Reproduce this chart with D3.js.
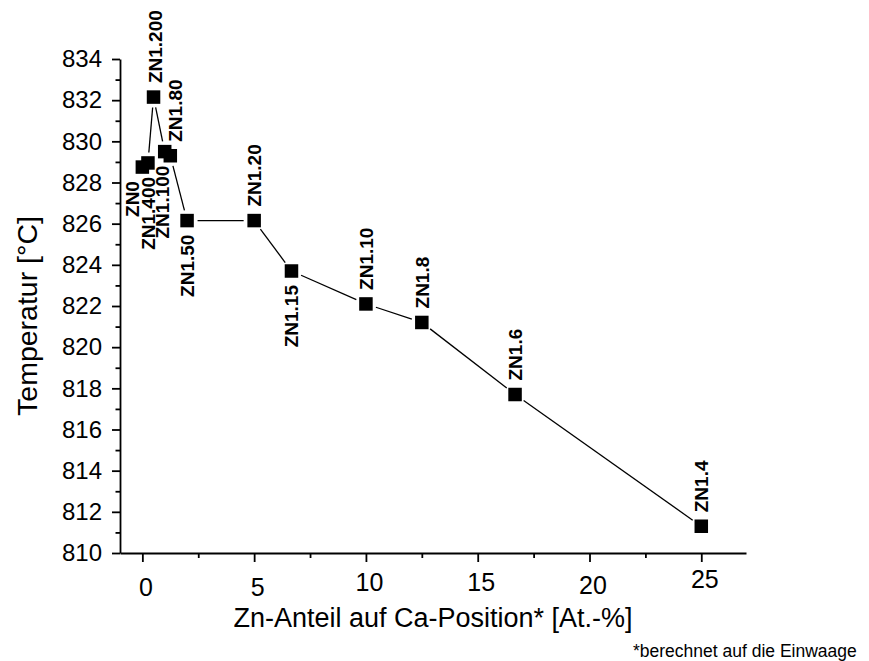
<!DOCTYPE html>
<html><head><meta charset="utf-8">
<script src="https://cdn.jsdelivr.net/npm/d3@7"></script>
<style>
body{margin:0;background:#fff}
svg{display:block}
text{font-family:"Liberation Sans",Arial,Helvetica,sans-serif;fill:#000}
</style>
</head><body>
<svg id="c" width="869" height="661"></svg>
<script>
// ---- data ----
const categories = ["ZN0","ZN1.400","ZN1.200","ZN1.100","ZN1.80","ZN1.50","ZN1.20","ZN1.15","ZN1.10","ZN1.8","ZN1.6","ZN1.4"];
const znShare = [0, 0.25, 0.5, 1.0, 1.25, 2.0, 5.0, 6.67, 10.0, 12.5, 16.67, 25.0];
const temperature = [828.75, 828.95, 832.15, 829.5, 829.3, 826.15, 826.15, 823.7, 822.1, 821.2, 817.7, 811.3];
const xTicks = [0, 5, 10, 15, 20, 25];
const xMinorTicks = [2.5, 7.5, 12.5, 17.5, 22.5];
const yTicks = [810, 812, 814, 816, 818, 820, 822, 824, 826, 828, 830, 832, 834];
const yMinorTicks = [811, 813, 815, 817, 819, 821, 823, 825, 827, 829, 831, 833];
const xTitle = "Zn-Anteil auf Ca-Position* [At.-%]";
const yTitle = "Temperatur [°C]";
const footnote = "*berechnet auf die Einwaage";

// ---- label layout (styling) ----
const labelSide = ["below","below","above","below","above","below","above","below","above","above","above","above"];
const labelNudge = [-10, 0, 2, -3, 5, 0, 0, 0, 0, 0, 0, 0];
const xLabelLift = [0, 0, -5, -5, -2, -8];

const svg = d3.select("#c");
const x = d3.scaleLinear().domain([-1, 27]).range([120, 746]);
const y = d3.scaleLinear().domain([810, 834]).range([553, 59]);

// ---- axes ----
const axisStroke = 1.8;
function styleAxis(g){
  g.selectAll("path.domain").attr("stroke","#000").attr("stroke-width",axisStroke).attr("fill","none");
  g.selectAll(".tick line").attr("stroke","#000").attr("stroke-width",axisStroke);
}

const gx = svg.append("g").attr("transform",`translate(0,${y(810)})`)
  .call(d3.axisBottom(x).tickValues(xTicks).tickSize(9).tickSizeOuter(0).tickPadding(16).tickFormat(d3.format("d")));
gx.selectAll(".tick text").attr("font-size",25).attr("font-family",null)
  .attr("dx",3).attr("y",(d,i)=>25 + xLabelLift[i]);
styleAxis(gx);
const gxm = svg.append("g").attr("transform",`translate(0,${y(810)})`)
  .call(d3.axisBottom(x).tickValues(xMinorTicks).tickSize(5).tickSizeOuter(0).tickFormat(""));
gxm.select("path.domain").remove();
styleAxis(gxm);

const gy = svg.append("g").attr("transform",`translate(${x(-1)},0)`)
  .call(d3.axisLeft(y).tickValues(yTicks).tickSize(8).tickSizeOuter(0).tickPadding(10).tickFormat(d3.format("d")));
gy.selectAll(".tick text").attr("font-size",24).attr("font-family",null);
styleAxis(gy);
const gym = svg.append("g").attr("transform",`translate(${x(-1)},0)`)
  .call(d3.axisLeft(y).tickValues(yMinorTicks).tickSize(4.5).tickSizeOuter(0).tickFormat(""));
gym.select("path.domain").remove();
styleAxis(gym);

// ---- titles ----
svg.append("text").attr("x",(x(-1)+x(27))/2).attr("y",626.5).attr("text-anchor","middle")
  .attr("font-size",27).text(xTitle);
svg.append("text").attr("transform",`translate(37,${(y(810)+y(834))/2 + 10}) rotate(-90)`)
  .attr("text-anchor","middle").attr("font-size",28.5).text(yTitle);
svg.append("text").attr("x",633).attr("y",657).attr("font-size",17.5).text(footnote);

// ---- data line with gaps at symbols ----
const pts = znShare.map((v,i)=>({px:x(v), py:y(temperature[i]), name:categories[i], i}));
const gap = 10.5;
const segs = [];
for(let i=0;i<pts.length-1;i++){
  const a=pts[i], b=pts[i+1];
  const dx=b.px-a.px, dy=b.py-a.py, L=Math.hypot(dx,dy);
  if(L > 2*gap+1){
    const ux=dx/L, uy=dy/L;
    segs.push([a.px+ux*gap, a.py+uy*gap, b.px-ux*gap, b.py-uy*gap]);
  }
}
svg.append("g").selectAll("line").data(segs).join("line")
  .attr("x1",d=>d[0]).attr("y1",d=>d[1]).attr("x2",d=>d[2]).attr("y2",d=>d[3])
  .attr("stroke","#000").attr("stroke-width",1.3);

// ---- symbols ----
const s = 13.5;
svg.append("g").selectAll("rect").data(pts).join("rect")
  .attr("x",d=>d.px-s/2).attr("y",d=>d.py-s/2).attr("width",s).attr("height",s).attr("fill","#000");

// ---- point labels ----
svg.append("g").selectAll("text").data(pts).join("text")
  .attr("transform",d=>{
    const above = labelSide[d.i]==="above";
    const ty = above ? d.py-14 : d.py+14;
    return `translate(${d.px+labelNudge[d.i]},${ty}) rotate(-90)`;
  })
  .attr("text-anchor",d=>labelSide[d.i]==="above"?"start":"end")
  .attr("dy","0.36em")
  .attr("font-size",19).attr("font-weight","bold").text(d=>d.name);
</script>
</body></html>
